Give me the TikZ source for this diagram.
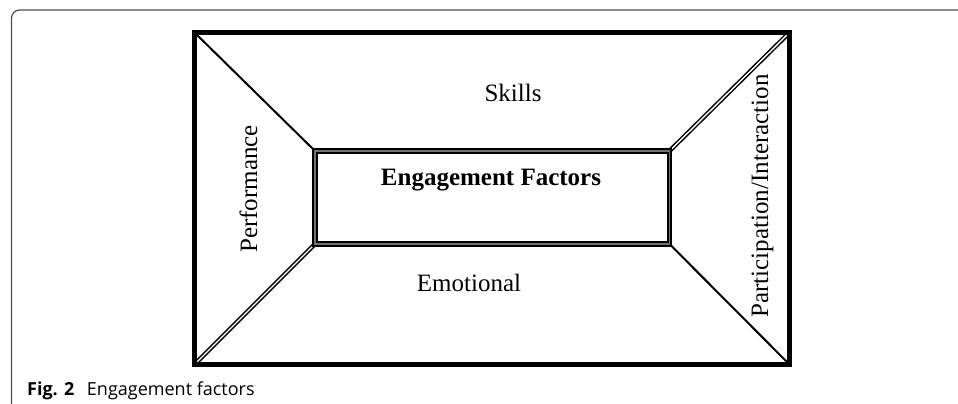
\documentclass[tikz,border=0pt]{standalone}
\usepackage{fontspec}
\setmainfont{Liberation Serif}
\newfontfamily\capfont{Open Sans}
\begin{document}
\begin{tikzpicture}[x=1pt,y=-1pt,
  framestyle/.style={draw=black!70, line width=1.2pt, rounded corners=8pt},
  outerbox/.style={draw=black, line width=5pt, line join=miter},
  innerbox/.style={draw=black, line width=2pt, double=black!55, double distance=1.3pt},
  singlediag/.style={draw=black, line width=2pt},
  doublediag/.style={draw=black, line width=1.5pt, double=white, double distance=1.4pt},
  lbl/.style={font=\fontsize{25}{28}\selectfont, inner sep=0pt, anchor=base},
  capt/.style={font=\capfont\fontsize{18}{21}\selectfont, inner sep=0pt, anchor=base west}]
\useasboundingbox (0,0) rectangle (958,404);
\fill[white] (0,0) rectangle (958,404);
% page frame
\draw[framestyle] (11.5,404) -- (11.5,10) -- (958,10);
% corner coordinates
\coordinate (otl) at (194.5,32.5);
\coordinate (otr) at (789.5,32.5);
\coordinate (obr) at (789.5,364.5);
\coordinate (obl) at (194.5,364.5);
\coordinate (itl) at (315,151);
\coordinate (itr) at (669.5,151);
\coordinate (ibr) at (669.5,244);
\coordinate (ibl) at (315,244);
% diagonals
\draw[singlediag] (otl) -- (itl);
\draw[singlediag] (ibr) -- (obr);
\draw[doublediag] (ibl) -- (obl);
\draw[doublediag] (itr) -- (otr);
% boxes
\draw[outerbox] (otl) rectangle (obr);
\draw[innerbox] (itl) rectangle (ibr);
% labels
\node[lbl] (skills) at (513,101) {Skills};
\node[lbl] (emo) at (469,291) {Emotional};
\node[lbl, font=\fontsize{25}{28}\selectfont\bfseries] (eng) at (491,185) {Engagement Factors};
\node[lbl, rotate=90] (perf) at (257,189) {Performance};
\node[lbl, rotate=90] (part) at (768,196) {Participation/Interaction};
% caption
\node[capt] (cap) at (27,395) {\textbf{Fig. 2}\hspace{0.7em}Engagement factors};
\end{tikzpicture}
\end{document}
